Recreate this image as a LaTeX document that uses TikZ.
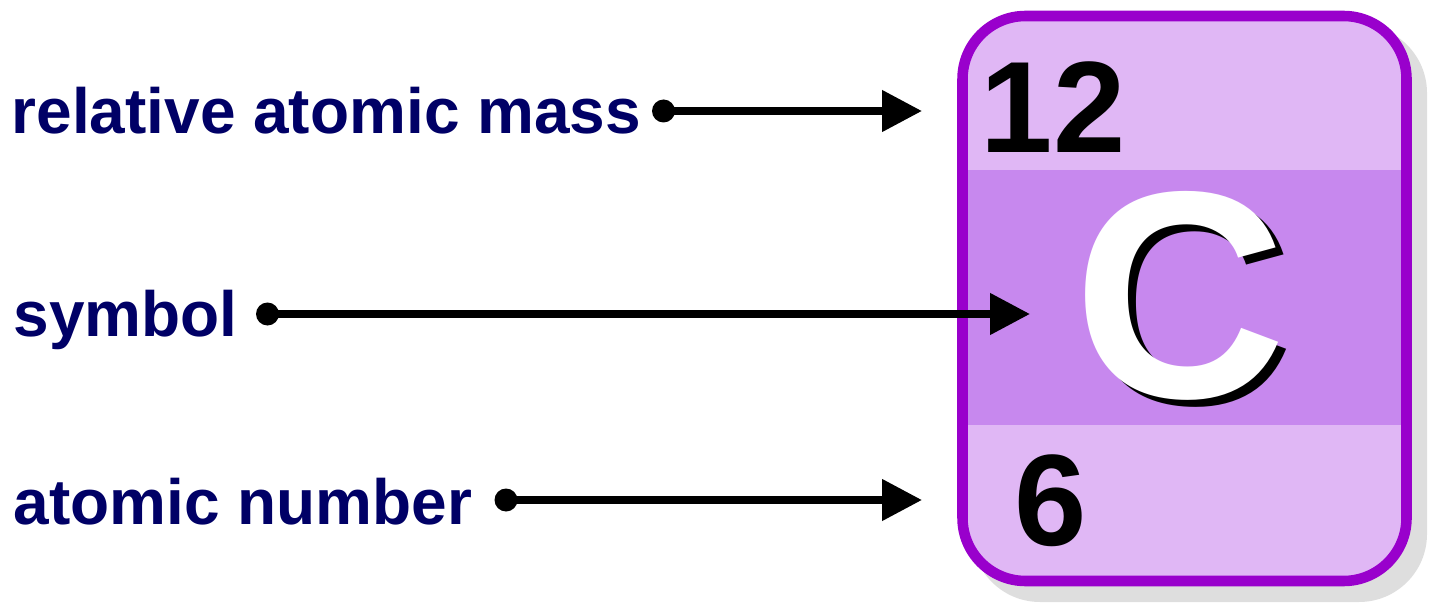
\documentclass[tikz,border=0pt]{standalone}
\usepackage{fontspec}
\setmainfont{Liberation Sans}
\usetikzlibrary{arrows.meta}
\definecolor{cardedge}{HTML}{9900CC}
\definecolor{cardlight}{HTML}{E0B7F5}
\definecolor{cardmid}{HTML}{C788EE}
\definecolor{labelblue}{HTML}{000066}

\begin{document}
\begin{tikzpicture}[
 lbl/.style={text=labelblue, font=\bfseries\fontsize{18.2}{20}\selectfont, inner sep=0, anchor=base west},
 digit/.style={font=\bfseries\fontsize{37}{42}\selectfont, inner sep=0, anchor=base west},
 letter/.style={font=\bfseries\fontsize{84}{90}\selectfont, inner sep=0, anchor=base west},
 pointer/.style={line width=2.2pt, -{Triangle[length=0.4cm,width=0.4cm]}},
 card/.style={rounded corners=0.63cm}]
\useasboundingbox (0,0) rectangle (14.29,6.03);
% card with its shadow
\fill[black!13, rounded corners=0.68cm] (9.72,0.01) rectangle (14.27,5.78);
\begin{scope}
\clip[card] (9.625,0.22) rectangle (14.065,5.87);
\fill[cardlight] (9.5,0) rectangle (14.2,6);
\fill[cardmid] (9.5,1.78) rectangle (14.2,4.33);
\end{scope}
\draw[cardedge, line width=3pt, card] (9.625,0.22) rectangle (14.065,5.87);
\node[digit] (massval) at (9.80,4.50) {12};
\node[digit] (numval) at (10.14,0.58) {6};
\node[letter] (symshadow) at (10.805,1.99) {C};
\node[letter, text=white] (symval) at (10.725,2.06) {C};
% labels
\node[lbl] (masslbl) at (0.11,4.69) {relative atomic mass};
\node[lbl] (symlbl) at (0.13,2.66) {symbol};
\node[lbl] (numlbl) at (0.13,0.79) {atomic number};
\coordinate (mass-dot) at (6.635,4.92);
\coordinate (mass-tip) at (9.22,4.92);
\coordinate (sym-dot) at (2.675,2.89);
\coordinate (sym-tip) at (10.30,2.89);
\coordinate (num-dot) at (5.06,1.03);
\coordinate (num-tip) at (9.22,1.03);
\foreach \p in {mass,sym,num}{
 \fill (\p-dot) circle (0.115);
 \draw[pointer] (\p-dot) -- (\p-tip);
}
\end{tikzpicture}
\end{document}
